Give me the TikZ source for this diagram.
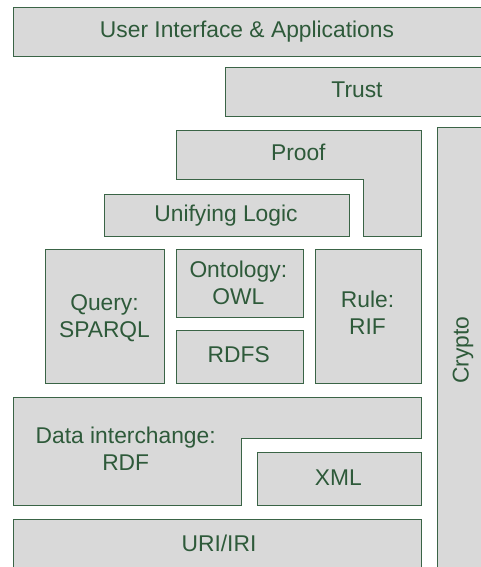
\documentclass[tikz,border=0pt]{standalone}
\usepackage{fontspec}
\setmainfont{Liberation Sans}
\definecolor{layerfill}{HTML}{D9D9D9}
\definecolor{layerline}{HTML}{3A6446}
\definecolor{layertext}{HTML}{2E5A3A}
\begin{document}
\begin{tikzpicture}[x=1pt,y=-1pt,
  layer/.style={fill=layerfill,draw=layerline,line width=1pt},
  lbl/.style={text=layertext,font=\fontsize{22.8}{27}\selectfont,align=center,inner sep=0pt,anchor=base}]
\useasboundingbox (0,0) rectangle (481,567);
\clip (0,0) rectangle (481,567);
% layer shapes
\draw[layer] (13,8) rectangle (490,57);
\draw[layer] (225,68) rectangle (490,117);
\draw[layer] (176,130) -- (421,130) -- (421,236) -- (363,236) -- (363,179) -- (176,179) -- cycle;
\draw[layer] (437,127) rectangle (490,580);
\draw[layer] (104,194) rectangle (349,236);
\draw[layer] (45,249) rectangle (164,383);
\draw[layer] (176,249) rectangle (303,317);
\draw[layer] (176,330) rectangle (303,383);
\draw[layer] (315,249) rectangle (421,383);
\draw[layer] (13,397) -- (421,397) -- (421,438) -- (241,438) -- (241,505) -- (13,505) -- cycle;
\draw[layer] (257,452) rectangle (421,505);
\draw[layer] (13,519) rectangle (421,580);
% labels, placed on their (last) baseline
\node[lbl] (ui) at (247,37.3) {User Interface \& Applications};
\node[lbl] (trust) at (357,97.3) {Trust};
\node[lbl] (proof) at (298.3,160.7) {Proof};
\node[lbl] (logic) at (226,221) {Unifying Logic};
\node[lbl] (query) at (104.5,337) {Query:\\SPARQL};
\node[lbl] (owl) at (238.3,304) {Ontology:\\OWL};
\node[lbl] (rdfs) at (238.7,362.7) {RDFS};
\node[lbl] (rif) at (367.5,334) {Rule:\\RIF};
\node[lbl,rotate=90,anchor=center] (crypto) at (463,350) {Crypto};
\node[lbl] (rdf) at (125.7,470) {Data interchange:\\RDF};
\node[lbl] (xml) at (338.3,485) {XML};
\node[lbl] (uri) at (219,551.7) {URI/IRI};
\end{tikzpicture}
\end{document}
